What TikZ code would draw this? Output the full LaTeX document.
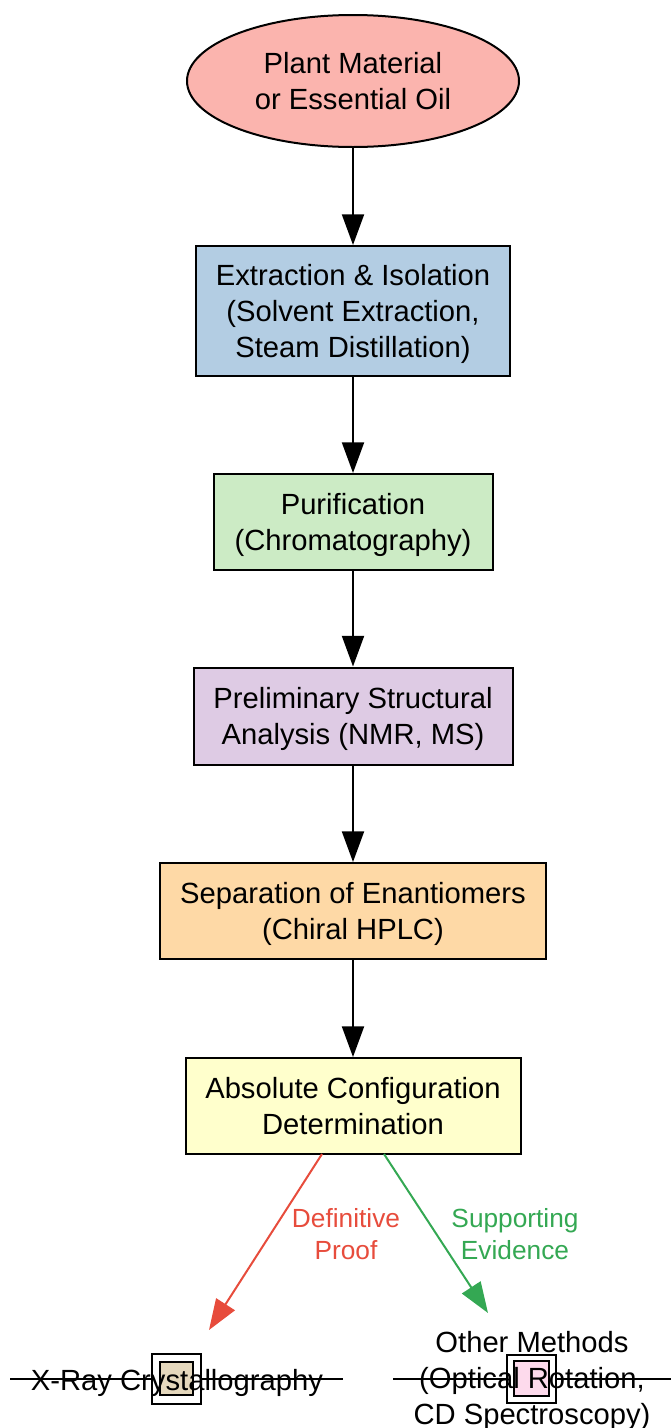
\documentclass[tikz,border=0pt]{standalone}
\usepackage{fontspec}
\setmainfont{Liberation Sans}
\usepackage{tikz}
\usetikzlibrary{shapes,arrows.meta,positioning}
\usepackage{xcolor}

\definecolor{plantfill}{HTML}{FBB4AE}
\definecolor{extractfill}{HTML}{B3CDE3}
\definecolor{purifyfill}{HTML}{CCEBC5}
\definecolor{analysisfill}{HTML}{DECBE4}
\definecolor{separatefill}{HTML}{FED9A6}
\definecolor{configfill}{HTML}{FFFFCC}
\definecolor{xrayfill}{HTML}{E5D8BD}
\definecolor{otherfill}{HTML}{FDDAEC}
\definecolor{proofred}{HTML}{E74C3C}
\definecolor{evidencegreen}{HTML}{34A853}

\begin{document}
\begin{tikzpicture}[x=0.75pt, y=-0.75pt]

  % Define styles for stages
  \tikzstyle{stagebox} = [rectangle, draw, line width=1.5pt, align=center, inner sep=0pt, text depth=0pt, font=\fontsize{21.9}{27}\selectfont]
  \tikzstyle{flow} = [draw, line width=1.5pt, -{Triangle[length=23pt,width=16.5pt]}]
  \tikzstyle{branchlabel} = [align=center, text depth=0pt, font=\fontsize{19.7}{23.3}\selectfont]
  \tikzstyle{methodtext} = [align=center, inner sep=0pt, text depth=0pt, font=\fontsize{21.9}{27}\selectfont]
  \tikzstyle{outersquare} = [draw, fill=white, line width=1.5pt]
  \tikzstyle{innersquare} = [draw, line width=2pt]

  \useasboundingbox (0,0) rectangle (671,1428);

  % Stages
  \node[stagebox, ellipse, fill=plantfill, minimum width=249pt, minimum height=99pt] (plant) at (353,81) {Plant Material\\or Essential Oil};
  \node[stagebox, fill=extractfill, minimum width=235.5pt, minimum height=97.5pt] (extract) at (353,311) {Extraction \& Isolation\\(Solvent Extraction,\\Steam Distillation)};
  \node[stagebox, fill=purifyfill, minimum width=209.25pt, minimum height=72pt] (purify) at (353,522) {Purification\\(Chromatography)};
  \node[stagebox, fill=analysisfill, minimum width=239.25pt, minimum height=72.75pt] (analysis) at (353,716) {Preliminary Structural\\Analysis (NMR, MS)};
  \node[stagebox, fill=separatefill, minimum width=289.5pt, minimum height=72pt] (separate) at (353,911) {Separation of Enantiomers\\(Chiral HPLC)};
  \node[stagebox, fill=configfill, minimum width=251.25pt, minimum height=72pt] (config) at (353,1106) {Absolute Configuration\\Determination};

  % Main flow
  \draw[flow] (plant.south) -- (extract.north);
  \draw[flow] (extract.south) -- (purify.north);
  \draw[flow] (purify.south) -- (analysis.north);
  \draw[flow] (analysis.south) -- (separate.north);
  \draw[flow] (separate.south) -- (config.north);

  % Methods (strike line, square, text)
  \draw[line width=1.5pt] (10,1379) -- (343,1379);
  \draw[line width=1.5pt] (393,1379) -- (671,1379);
  \draw[outersquare] (152,1354) rectangle (201,1404);
  \draw[innersquare, fill=xrayfill] (160,1362) rectangle (193,1395);
  \draw[outersquare] (507,1355) rectangle (556,1403);
  \draw[innersquare, fill=otherfill] (514,1361) rectangle (549,1396);
  \node[methodtext] (xray) at (177,1380) {X-Ray Crystallography};
  \node[methodtext] (other) at (532,1378) {Other Methods\\(Optical Rotation,\\CD Spectroscopy)};

  % Branches
  \coordinate (proofStart) at (322,1154);
  \coordinate (proofEnd) at (209,1330);
  \coordinate (evidenceStart) at (384,1154);
  \coordinate (evidenceEnd) at (488,1313);
  \draw[flow, proofred] (proofStart) -- (proofEnd);
  \draw[flow, evidencegreen] (evidenceStart) -- (evidenceEnd);
  \node[branchlabel, text=proofred] (prooflabel) at (346,1234) {Definitive\\Proof};
  \node[branchlabel, text=evidencegreen] (evidencelabel) at (515,1234) {Supporting\\Evidence};

\end{tikzpicture}
\end{document}
